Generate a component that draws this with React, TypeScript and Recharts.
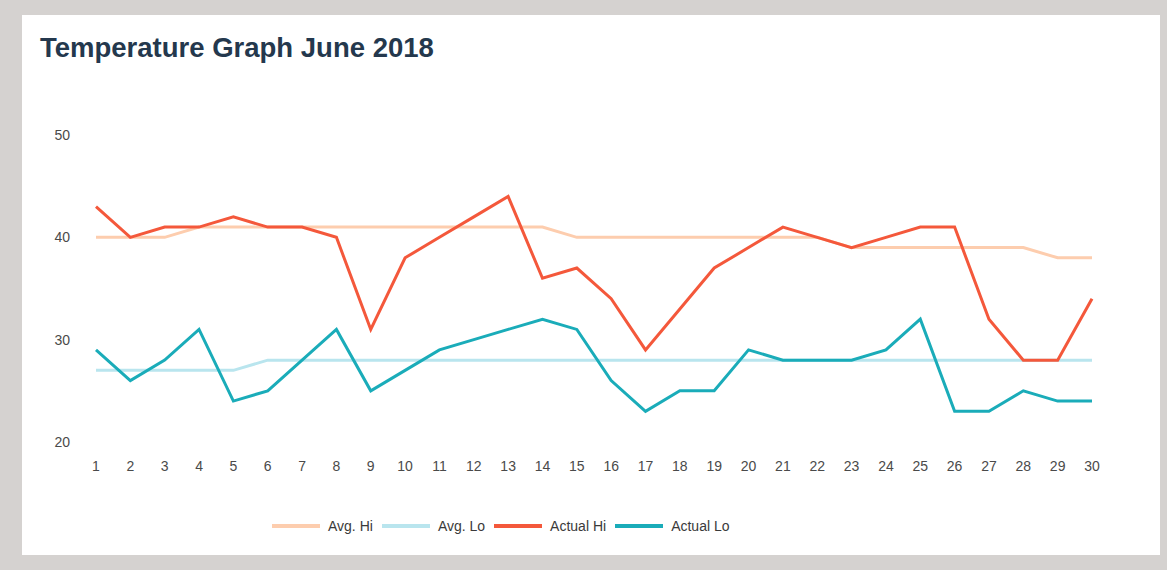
import { Legend, Line, LineChart, XAxis, YAxis } from "recharts";

const days = [
  1, 2, 3, 4, 5, 6, 7, 8, 9, 10, 11, 12, 13, 14, 15, 16, 17, 18, 19, 20, 21, 22, 23, 24, 25, 26, 27, 28, 29, 30,
];
const avgHi = [40, 40, 40, 41, 41, 41, 41, 41, 41, 41, 41, 41, 41, 41, 40, 40, 40, 40, 40, 40, 40, 40, 39, 39, 39, 39, 39, 39, 38, 38];
const avgLo = [27, 27, 27, 27, 27, 28, 28, 28, 28, 28, 28, 28, 28, 28, 28, 28, 28, 28, 28, 28, 28, 28, 28, 28, 28, 28, 28, 28, 28, 28];
const actualHi = [43, 40, 41, 41, 42, 41, 41, 40, 31, 38, 40, 42, 44, 36, 37, 34, 29, 33, 37, 39, 41, 40, 39, 40, 41, 41, 32, 28, 28, 34];
const actualLo = [29, 26, 28, 31, 24, 25, 28, 31, 25, 27, 29, 30, 31, 32, 31, 26, 23, 25, 25, 29, 28, 28, 28, 29, 32, 23, 23, 25, 24, 24];
const yTicks = [20, 30, 40, 50];
const seriesOrder = ["avgHi", "avgLo", "actualHi", "actualLo"];

const data = days.map((day, i) => ({
  day,
  avgHi: avgHi[i],
  avgLo: avgLo[i],
  actualHi: actualHi[i],
  actualLo: actualLo[i],
}));

const font = "'Liberation Sans', Arial, sans-serif";

function LegendRow({ payload }: { payload?: any[] }) {
  const items = [...(payload ?? [])].sort(
    (a, b) => seriesOrder.indexOf(a.dataKey) - seriesOrder.indexOf(b.dataKey)
  );
  return (
    <div style={{ display: "flex", alignItems: "center", fontFamily: font, fontSize: 14, color: "#3a3a3a" }}>
      {items.map((item) => (
        <div key={item.value} style={{ display: "flex", alignItems: "center", marginRight: 9 }}>
          <span style={{ display: "inline-block", width: 48, height: 4, background: item.color, marginRight: 8 }} />
          <span>{item.value}</span>
        </div>
      ))}
    </div>
  );
}

export default function App() {
  return (
    <div style={{ position: "absolute", top: 0, left: 0, width: 1167, height: 570, background: "#d5d2d0" }}>
      <div
        style={{
          position: "absolute",
          left: 22,
          top: 15,
          width: 1138,
          height: 540,
          background: "#ffffff",
        }}
      />
      <div
        style={{
          position: "absolute",
          left: 40,
          top: 34,
          fontFamily: font,
          fontWeight: 700,
          fontSize: 27.5,
          lineHeight: "27px",
          color: "#24384d",
          whiteSpace: "nowrap",
        }}
      >
        Temperature Graph June 2018
      </div>
      <div style={{ position: "absolute", left: 0, top: 0 }}>
        <LineChart width={1167} height={570} data={data} margin={{ top: 135, right: 75, bottom: 98, left: 36 }}>
          <XAxis
            dataKey="day"
            axisLine={false}
            tickLine={false}
            tickSize={0}
            tickMargin={19}
            interval={0}
            tick={{ fontSize: 14, fill: "#4a4a4a", fontFamily: font }}
          />
          <YAxis
            domain={[20, 50]}
            ticks={yTicks}
            width={60}
            axisLine={false}
            tickLine={false}
            tickSize={0}
            tickMargin={26}
            tick={{ fontSize: 14, fill: "#4a4a4a", fontFamily: font }}
          />
          <Legend
            layout="horizontal"
            verticalAlign="middle"
            align="center"
            wrapperStyle={{ top: 518, left: 272, width: "auto" }}
            content={(props: any) => <LegendRow payload={props.payload} />}
          />
          <Line type="linear" dataKey="avgHi" name="Avg. Hi" stroke="#fdcdae" strokeWidth={3} dot={false} isAnimationActive={false} />
          <Line type="linear" dataKey="avgLo" name="Avg. Lo" stroke="#b9e5ee" strokeWidth={3} dot={false} isAnimationActive={false} />
          <Line type="linear" dataKey="actualHi" name="Actual Hi" stroke="#f4583b" strokeWidth={3} dot={false} isAnimationActive={false} />
          <Line type="linear" dataKey="actualLo" name="Actual Lo" stroke="#1aacb9" strokeWidth={3} dot={false} isAnimationActive={false} />
        </LineChart>
      </div>
    </div>
  );
}
